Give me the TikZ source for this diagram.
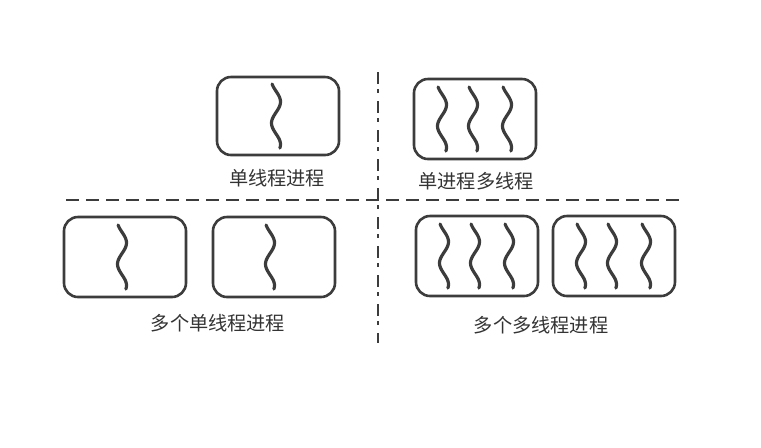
\documentclass[tikz,border=0pt]{standalone}
\usepackage{fontspec}
\newfontfamily\cjk{Noto Sans CJK SC}
\usetikzlibrary{calc}
\definecolor{inkgray}{HTML}{3C3C3C}
\definecolor{textgray}{HTML}{333333}
\tikzset{
  procbox/.style={draw=inkgray, line width=1.3pt, rounded corners=7pt,
    minimum width=61pt, minimum height=40pt, inner sep=0pt},
  threadline/.style={draw=inkgray, line width=1.6pt, line cap=round},
  thread/.pic={\draw[threadline] plot[domain=0:1, samples=40, smooth]
    ({4.5*sin(540*\x-60)}, {-32+64*\x});},
  caption/.style={text=textgray, font=\cjk\fontsize{9.6}{11}\selectfont, inner sep=0pt},
  hsep/.style={draw=inkgray, line width=1.3pt, dash pattern=on 6.5pt off 3.5pt},
  vsep/.style={draw=inkgray, line width=1.2pt, dash pattern=on 6pt off 2.5pt on 2pt off 4pt}
}
\begin{document}
\begin{tikzpicture}[x=0.5pt, y=-0.5pt]
\useasboundingbox (0,0) rectangle (761,447);

% separators
\coordinate (hl) at (66,200);
\coordinate (hr) at (680,200);
\coordinate (vt) at (378,72);
\coordinate (vb) at (378,343);
\draw[hsep] (hl) -- (hr);
\draw[vsep] (vt) -- (vb);

% single threaded process
\node[procbox, minimum height=39pt] (p1) at (278,116) {};
\pic at ($(p1.center)+(-2,0)$) {thread};
\node[caption] (l1) at (277,178) {单线程进程};

% one process, many threads
\node[procbox] (p2) at (475,119) {};
\foreach \dx in {-33,-2,32}
  \pic at ($(p2.center)+(\dx,0)$) {thread};
\node[caption] (l2) at (476,181) {单进程多线程};

% many single threaded processes
\node[procbox] (p3) at (125,257) {};
\node[procbox] (p4) at (274,257) {};
\pic at ($(p3.center)+(-3,0)$) {thread};
\pic at ($(p4.center)+(-4,0)$) {thread};
\node[caption] (l3) at (218,323) {多个单线程进程};

% many multi threaded processes
\node[procbox] (p5) at (477,256) {};
\node[procbox] (p6) at (614,256) {};
\foreach \dx in {-33,-2,32} {
  \pic at ($(p5.center)+(\dx,0)$) {thread};
  \pic at ($(p6.center)+(\dx,0)$) {thread};
}
\node[caption] (l4) at (541,325) {多个多线程进程};
\end{tikzpicture}
\end{document}
